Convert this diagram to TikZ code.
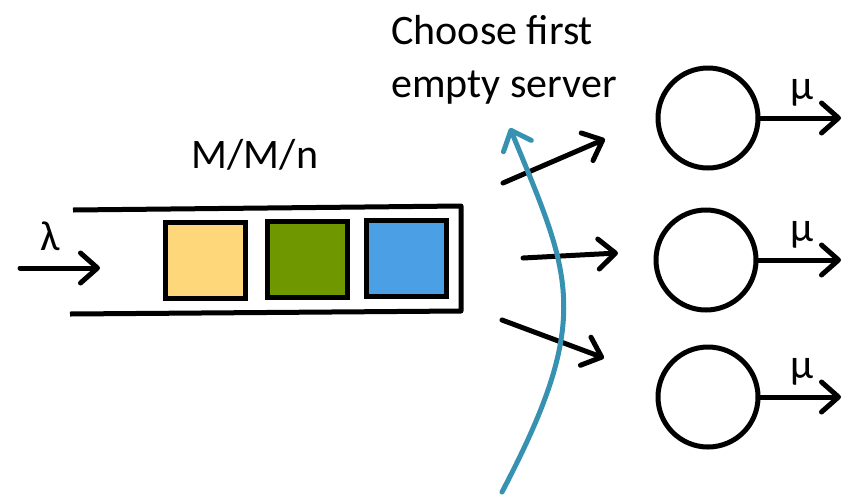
\documentclass[tikz,border=0pt]{standalone}
\usepackage{fontspec}
\setmainfont{Carlito}
\usetikzlibrary{arrows.meta,shadows}
\definecolor{jobyellow}{RGB}{254,215,122}
\definecolor{jobgreen}{RGB}{111,151,0}
\definecolor{jobblue}{RGB}{74,159,229}
\definecolor{picker}{RGB}{55,146,178}
\begin{document}
\begin{tikzpicture}[x=1pt, y=-1pt,
    >={Straight Barb[length=17pt, width=30pt, line cap=round, line join=round]},
    flow/.style={->, line width=5pt, line cap=round},
    job/.style={draw, line width=5pt, minimum width=80pt, minimum height=76pt, inner sep=0pt,
        drop shadow={opacity=0.25, shadow xshift=2pt, shadow yshift=-2pt}},
    server/.style={draw, circle, line width=5pt, minimum size=100pt, inner sep=0pt},
    lbl/.style={font=\fontsize{42}{53}\selectfont, inner sep=0pt}]
    \useasboundingbox (0,0) rectangle (861,496);

    % queue
    \draw[line width=5pt, line join=round] (73,210) -- (461,206) -- (461,311) -- (70,314);
    \node[job, fill=jobyellow] (j1) at (205,260) {};
    \node[job, fill=jobgreen] (j2) at (307,259) {};
    \node[job, fill=jobblue] (j3) at (406,258) {};
    \node[lbl] (mmn) at (255,155) {M/M/n};

    % arrivals
    \coordinate (in0) at (20,268);
    \coordinate (in1) at (100,268);
    \draw[flow] (in0) -- (in1);
    \node[lbl] (lam) at (50,236) {λ};

    % servers
    \foreach \i/\x/\y in {1/708/118, 2/706/260, 3/708/397} {
        \node[server] (s\i) at (\x,\y) {};
        \coordinate (o\i) at (841,\y);
        \draw[flow] (s\i) -- (o\i);
        \node[lbl] (mu\i) at (802,\y-25) {μ};
    }

    % dispatch
    \coordinate (d1) at (503,183);
    \coordinate (e1) at (605,139);
    \coordinate (d2) at (523,258);
    \coordinate (e2) at (618,253);
    \coordinate (d3) at (502,320);
    \coordinate (e3) at (604,358);
    \foreach \i in {1,2,3}
        \draw[flow] (d\i) -- (e\i);

    % choice
    \coordinate (c0) at (502,492);
    \coordinate (c1) at (510,128);
    \draw[flow, picker] (c0) .. controls (595,315) and (570,275) .. (c1);
    \node[lbl, align=left] (pick) at (504,60) {Choose first\\empty server};
\end{tikzpicture}
\end{document}
